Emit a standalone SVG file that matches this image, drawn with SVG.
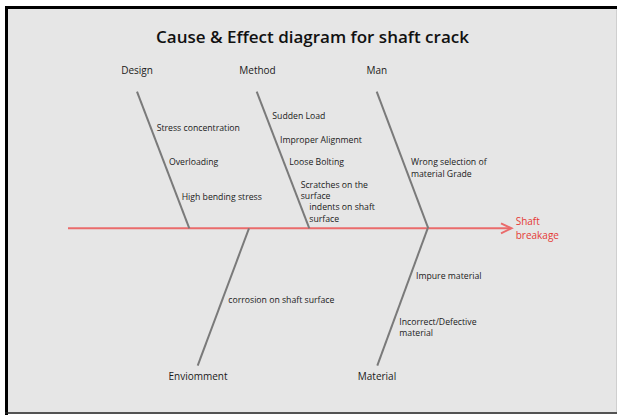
<svg xmlns="http://www.w3.org/2000/svg" width="617" height="415" viewBox="0 0 617 415">
<defs>
<style>
.t{font-family:"Open Sans","Noto Sans","DejaVu Sans",sans-serif;font-size:8.7px;fill:#1a1a1a}
.cat{font-family:"Open Sans","Noto Sans","DejaVu Sans",sans-serif;font-size:10px;fill:#1a1a1a;text-anchor:middle}
.title{font-family:"Open Sans","Noto Sans","DejaVu Sans",sans-serif;font-size:17px;font-weight:600;fill:#111;text-anchor:middle}
.red{font-family:"Open Sans","Noto Sans","DejaVu Sans",sans-serif;font-size:10px;fill:#e53935}
.bone{stroke:#7a7a7a;stroke-width:2;fill:none}
.spine{stroke:#ea6b6b;stroke-width:2;fill:none}
</style>
</defs>
<rect x="0" y="0" width="617" height="415" fill="#ffffff"/>
<rect x="5" y="6" width="612" height="408" fill="#e6e6e6"/>
<path d="M6.5 415 V7.5 H617" stroke="#000" stroke-width="3" fill="none"/>
<line x1="5" y1="413" x2="617" y2="413" stroke="#222" stroke-width="1.5"/>
<line x1="616.5" y1="9" x2="616.5" y2="412" stroke="#cfcfcf" stroke-width="1"/>
<text class="title" x="312.5" y="43.3">Cause &amp; Effect diagram for shaft crack</text>
<g id="connectors">
<line class="spine" x1="68" y1="228.3" x2="511" y2="228.3"/>
<polyline class="spine" points="501,223.3 511.5,228.3 501,233.3"/>
<line class="bone" x1="137" y1="91.7" x2="189.3" y2="228.3"/>
<line class="bone" x1="256.7" y1="91.7" x2="309.3" y2="228.3"/>
<line class="bone" x1="376.7" y1="91.7" x2="428.3" y2="228.3"/>
<line class="bone" x1="249" y1="228.3" x2="197.7" y2="365.7"/>
<line class="bone" x1="427.7" y1="228.3" x2="377.3" y2="365.7"/>
</g>
<g id="effect">
<text class="red" x="515.7" y="225.3">Shaft</text>
<text class="red" x="515.7" y="238.6">breakage</text>
</g>
<g id="design">
<text class="cat" x="137" y="74.2">Design</text>
<text class="t" x="156.7" y="130.8">Stress concentration</text>
<text class="t" x="169" y="164.8">Overloading</text>
<text class="t" x="181.7" y="199.8">High bending stress</text>
</g>
<g id="method">
<text class="cat" x="257.5" y="74.2">Method</text>
<text class="t" x="272.3" y="118.8">Sudden Load</text>
<text class="t" x="280" y="142.8">Improper Alignment</text>
<text class="t" x="289.3" y="164.8">Loose Bolting</text>
<text class="t" x="300.7" y="187.6">Scratches on the</text>
<text class="t" x="300.7" y="199.2">surface</text>
<text class="t" x="309.3" y="210.4">indents on shaft</text>
<text class="t" x="309.3" y="221.8">surface</text>
</g>
<g id="man">
<text class="cat" x="376.8" y="74.2">Man</text>
<text class="t" x="411" y="164.8">Wrong selection of</text>
<text class="t" x="411" y="176.8">material Grade</text>
</g>
<g id="environment">
<text class="cat" x="198" y="379.5">Enviomment</text>
<text class="t" x="228.3" y="303.1">corrosion on shaft surface</text>
</g>
<g id="material">
<text class="cat" x="377" y="379.5">Material</text>
<text class="t" x="416" y="278.8">Impure material</text>
<text class="t" x="399.3" y="324.8">Incorrect/Defective</text>
<text class="t" x="399.3" y="335.8">material</text>
</g>
</svg>
